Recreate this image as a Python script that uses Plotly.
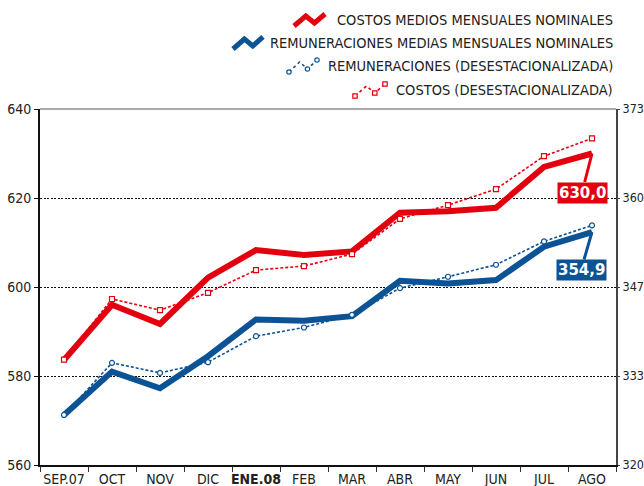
import plotly.graph_objects as go

# ---------------- data ----------------
months = ["SEP.07", "OCT", "NOV", "DIC", "ENE.08", "FEB", "MAR", "ABR", "MAY", "JUN", "JUL", "AGO"]
month_labels = ["SEP.07", "OCT", "NOV", "DIC", "<b>ENE.08</b>", "FEB", "MAR", "ABR", "MAY", "JUN", "JUL", "AGO"]

costos_nominales = [583.6, 596.0, 591.7, 602.1, 608.3, 607.2, 608.0, 616.7, 617.0, 617.8, 627.0, 630.0]
costos_desest = [583.7, 597.3, 594.8, 598.7, 603.8, 604.7, 607.4, 615.3, 618.4, 622.0, 629.4, 633.4]
remun_nominales = [327.5, 334.0, 331.5, 336.3, 341.8, 341.6, 342.3, 347.6, 347.2, 347.7, 352.7, 354.9]
remun_desest = [327.5, 335.3, 333.8, 335.4, 339.3, 340.6, 342.5, 346.5, 348.2, 350.0, 353.5, 355.9]

left_ticks = [560, 580, 600, 620, 640]
right_tickvals = [320, 333.333, 346.667, 360, 373.333]
right_ticktext = ["320", "333", "347", "360", "373"]

legend_names = [
    "COSTOS MEDIOS MENSUALES NOMINALES",
    "REMUNERACIONES MEDIAS MENSUALES NOMINALES",
    "REMUNERACIONES (DESESTACIONALIZADA)",
    "COSTOS (DESESTACIONALIZADA)",
]

RED = "#E3000F"
BLUE = "#0B5394"
FONT = "DejaVu Sans Condensed, DejaVu Sans, sans-serif"

W, H = 644, 486
X0, X1, Y0, Y1 = 40, 616, 109, 465
L, T = X0, Y0
R, B = W - X1, H - Y1
PW, PH = X1 - X0, Y1 - Y0


def px(x):
    return (x - X0) / PW


def py(y):
    return (Y1 - y) / PH


fig = go.Figure()

fig.add_trace(go.Scatter(x=months, y=costos_nominales, mode="lines",
                         line=dict(color=RED, width=6), yaxis="y", showlegend=False))
fig.add_trace(go.Scatter(x=months, y=remun_nominales, mode="lines",
                         line=dict(color=BLUE, width=6), yaxis="y2", showlegend=False))
fig.add_trace(go.Scatter(x=months, y=costos_desest, mode="lines+markers",
                         line=dict(color=RED, width=1.6, dash="3px,2px"),
                         marker=dict(symbol="square", size=5, color="white",
                                     line=dict(color=RED, width=1.2)),
                         yaxis="y", showlegend=False))
fig.add_trace(go.Scatter(x=months, y=remun_desest, mode="lines+markers",
                         line=dict(color=BLUE, width=1.6, dash="3px,2px"),
                         marker=dict(symbol="circle", size=5, color="white",
                                     line=dict(color=BLUE, width=1.2)),
                         yaxis="y2", showlegend=False))

shapes = []
# top border (grey)
shapes.append(dict(type="line", xref="paper", yref="paper", x0=0, x1=1, y0=1, y1=1,
                   line=dict(color="#8c8c8c", width=1.5)))

annotations = []
# value callouts
annotations.append(dict(x=months[-1], y=costos_nominales[-1], xref="x", yref="y",
                        text="<b>630,0</b>", showarrow=True, arrowhead=0, arrowwidth=3,
                        arrowcolor=RED, ax=-10, ay=39, bgcolor=RED, borderpad=1,
                        font=dict(family="DejaVu Sans, sans-serif", size=15, color="white")))
annotations.append(dict(x=months[-1], y=remun_nominales[-1], xref="x", yref="y2",
                        text="<b>354,9</b>", showarrow=True, arrowhead=0, arrowwidth=3,
                        arrowcolor=BLUE, ax=-11, ay=38, bgcolor=BLUE, borderpad=1,
                        font=dict(family="DejaVu Sans, sans-serif", size=15, color="white")))

# manual legend (right-aligned text with icon to its left)
rows_y = [20, 43, 66, 90]
icon_x = [(294, 325), (233, 263), (289, 317), (355, 385)]
for i, (name, yy) in enumerate(zip(legend_names, rows_y)):
    annotations.append(dict(x=px(615), y=py(yy), xref="paper", yref="paper",
                            xanchor="right", yanchor="middle", showarrow=False,
                            text=name, font=dict(family=FONT, size=14.5, color="#222")))
    x0, x1 = icon_x[i]
    w = x1 - x0
    pts = [(x0, yy + 6), (x0 + w * 0.38, yy - 4), (x0 + w * 0.66, yy + 3), (x1, yy - 6)]
    path = "M " + " L ".join(f"{px(a):.5f},{py(b):.5f}" for a, b in pts)
    color = RED if i in (0, 3) else BLUE
    if i < 2:
        shapes.append(dict(type="path", xref="paper", yref="paper", path=path,
                           line=dict(color=color, width=5)))
    else:
        shapes.append(dict(type="path", xref="paper", yref="paper", path=path,
                           line=dict(color=color, width=1.6, dash="dot")))
        for a, b in [pts[0], pts[2], pts[3]]:
            r = 2.2
            shapes.append(dict(type="rect" if i == 3 else "circle", xref="paper", yref="paper",
                               x0=px(a - r), x1=px(a + r), y0=py(b + r), y1=py(b - r),
                               fillcolor="white", line=dict(color=color, width=1.2)))

fig.update_layout(
    width=W, height=H,
    margin=dict(l=L, r=R, t=T, b=B, autoexpand=False),
    paper_bgcolor="white", plot_bgcolor="white",
    font=dict(family=FONT, size=14, color="#222"),
    xaxis=dict(type="category", categoryorder="array", categoryarray=months,
               tickvals=months, ticktext=month_labels, range=[-0.5, 11.5], tickangle=0,
               showgrid=False, showline=True, linecolor="#111", linewidth=2,
               ticks="outside", tickson="boundaries", ticklen=5, tickcolor="#333",
               tickfont=dict(family=FONT, size=14, color="#222"), zeroline=False,
               automargin=False),
    yaxis=dict(range=[560, 640], tickvals=left_ticks, showgrid=True,
               gridcolor="#111", griddash="2px,1.5px", gridwidth=1,
               showline=True, linecolor="#111", linewidth=2,
               ticks="outside", ticklen=4, tickcolor="#111",
               tickfont=dict(family=FONT, size=14, color="#222"), zeroline=False,
               automargin=False),
    yaxis2=dict(range=[320, 373.333], overlaying="y", side="right",
                tickvals=right_tickvals, ticktext=right_ticktext, showgrid=False,
                showline=True, linecolor="#444", linewidth=2,
                ticks="outside", ticklen=2, tickcolor="#444",
                tickfont=dict(family=FONT, size=12.5, color="#222"), zeroline=False,
                automargin=False),
    shapes=shapes,
    annotations=annotations,
    showlegend=False,
)

fig.write_html(
    "out.html",
    config={"displayModeBar": False},
    post_script="document.body.style.margin='0';document.body.style.overflow='hidden';",
)
